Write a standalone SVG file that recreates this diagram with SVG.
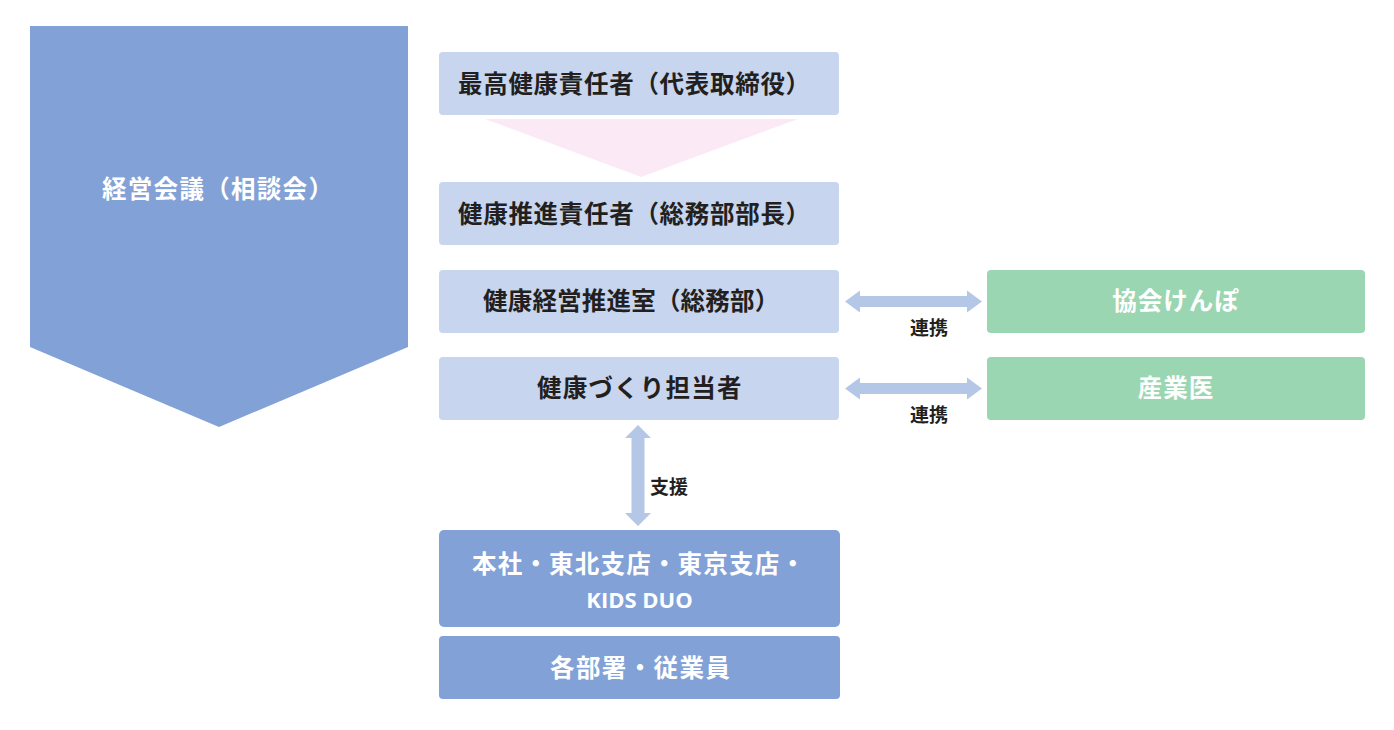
<svg xmlns="http://www.w3.org/2000/svg" width="1394" height="730" viewBox="0 0 1394 730">
<style>
.lb{fill:#C7D5EE}
.db{fill:#82A1D7}
.gr{fill:#9BD6B2}
.ar{fill:#B4C7E7}
.t{font-family:"Noto Sans CJK JP","Noto Sans",sans-serif;font-weight:700;font-size:24.5px;fill:#231F20}
.w{fill:#FFFFFF}
.lab{font-family:"Noto Sans CJK JP","Noto Sans",sans-serif;font-weight:700;font-size:19px;fill:#231F20}
.lat{font-family:"Open Sans","Noto Sans",sans-serif;font-weight:700;font-size:22px;fill:#FFFFFF}
</style>
<rect width="1394" height="730" fill="#FFFFFF"/>
<g id="keiei-kaigi">
<polygon class="db" points="30,26 408,26 408,347 219,427 30,347"/>
<text class="t w" x="102" y="198" letter-spacing="1.3">経営会議（相談会）</text>
</g>
<g id="connectors">
<polygon fill="#FBEAF6" points="485,119 798,119 641,177"/>
<polygon class="ar" points="845,301.5 860,290.5 860,296 967,296 967,290.5 982,301.5 967,312.5 967,307 860,307 860,312.5"/>
<polygon class="ar" points="845,388.5 860,377.5 860,383 967,383 967,377.5 982,388.5 967,399.5 967,394 860,394 860,399.5"/>
<polygon class="ar" points="638,425 651,438 644.5,438 644.5,513 651,513 638,526 625,513 631.5,513 631.5,438 625,438"/>
<text class="lab" x="910" y="335">連携</text>
<text class="lab" x="910" y="422">連携</text>
<text class="lab" x="650" y="494">支援</text>
</g>
<g id="saiko">
<rect class="lb" x="439" y="52" width="400" height="63" rx="4"/>
<text class="t" x="458" y="93" letter-spacing="0.7">最高健康責任者（代表取締役）</text>
</g>
<g id="suishin-sekinin">
<rect class="lb" x="439" y="182" width="400" height="63" rx="4"/>
<text class="t" x="458" y="223" letter-spacing="0.7">健康推進責任者（総務部部長）</text>
</g>
<g id="suishin-shitsu">
<rect class="lb" x="439" y="270" width="400" height="63" rx="4"/>
<text class="t" x="483" y="310" letter-spacing="0.2">健康経営推進室（総務部）</text>
</g>
<g id="tanto">
<rect class="lb" x="439" y="357" width="400" height="63" rx="4"/>
<text class="t" x="537" y="397" letter-spacing="1.2">健康づくり担当者</text>
</g>
<g id="kyokai">
<rect class="gr" x="987" y="270" width="378" height="63" rx="4"/>
<text class="t w" x="1176" y="310" text-anchor="middle" letter-spacing="1">協会けんぽ</text>
</g>
<g id="sangyoi">
<rect class="gr" x="987" y="357" width="378" height="63" rx="4"/>
<text class="t w" x="1176" y="397" text-anchor="middle" letter-spacing="1">産業医</text>
</g>
<g id="honsha">
<rect class="db" x="439" y="530" width="401" height="97" rx="5"/>
<text class="t w" x="472" y="573" letter-spacing="1.2">本社・東北支店・東京支店・</text>
<text class="lat" x="639.5" y="608" text-anchor="middle">KIDS DUO</text>
</g>
<g id="kakubusho">
<rect class="db" x="439" y="636" width="401" height="63" rx="4"/>
<text class="t w" x="550" y="677" letter-spacing="1.4">各部署・従業員</text>
</g>
</svg>
